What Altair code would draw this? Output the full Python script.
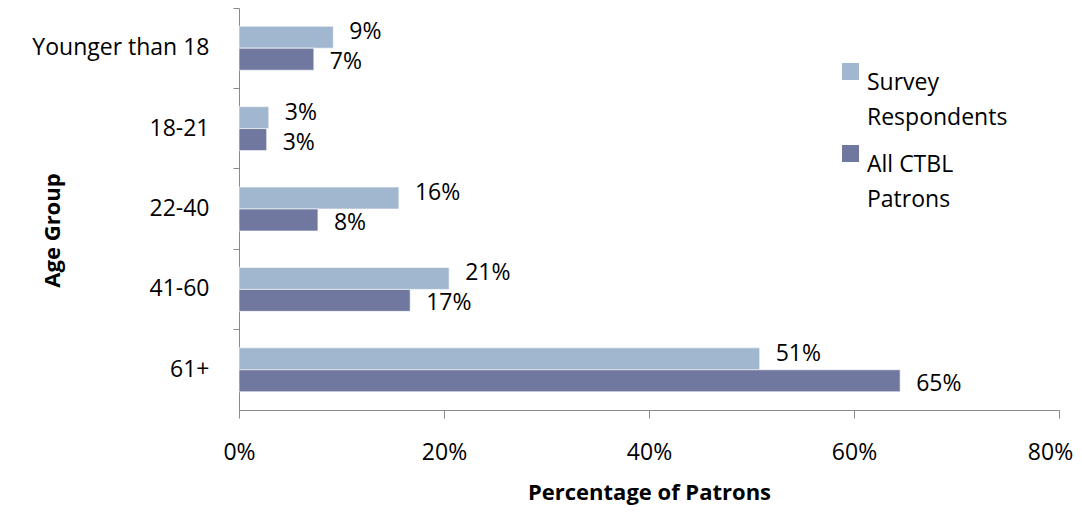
import altair as alt
import pandas as pd

age_groups = ["Younger than 18", "18-21", "22-40", "41-60", "61+"]
series_names = ["Survey|Respondents", "All CTBL|Patrons"]
survey_values = [0.092, 0.029, 0.156, 0.205, 0.508]
patron_values = [0.073, 0.027, 0.077, 0.167, 0.645]
colors = ["#a1b7cf", "#7178a0"]

rows = []
for g, s, p in zip(age_groups, survey_values, patron_values):
    rows.append({"age": g, "series": series_names[0], "value": s})
    rows.append({"age": g, "series": series_names[1], "value": p})
df = pd.DataFrame(rows)

FONT = "Comic Sans MS, Open Sans"

y_scale = alt.Scale(domain=age_groups, paddingInner=0, paddingOuter=0)
yoff_scale = alt.Scale(domain=series_names, paddingInner=0, paddingOuter=0.83)
x_scale = alt.Scale(domain=[0, 0.8])

base = alt.Chart(df)

bars = base.mark_bar(stroke="white", strokeWidth=0.6).encode(
    y=alt.Y("age:N", scale=y_scale, sort=age_groups,
            axis=alt.Axis(title="Age Group", ticks=False, labelPadding=30,
                          titleX=-187, titleY=222, titleAngle=-90,
                          titleAlign="center", titleBaseline="middle",
                          orient="left")),
    yOffset=alt.YOffset("series:N", scale=yoff_scale, sort=series_names),
    x=alt.X("value:Q", scale=x_scale,
            axis=alt.Axis(title="Percentage of Patrons", format=".0%",
                          values=[0, 0.2, 0.4, 0.6, 0.8], grid=False,
                          labelFlush=False,
                          labelOffset={"condition": {"test": "datum.value >= 0.8", "value": -9},
                                       "value": 0},
                          tickSize=8, labelPadding=23, titlePadding=18)),
    color=alt.Color("series:N", sort=series_names,
                    scale=alt.Scale(domain=series_names, range=colors),
                    legend=alt.Legend(title=None, orient="none", legendX=600, legendY=52,
                                      symbolType="square", symbolSize=289,
                                      symbolStrokeWidth=0,
                                      labelExpr="split(datum.label, '|')",
                                      labelFontSize=23, labelFont=FONT,
                                      labelBaseline="top", labelOffset=5,
                                      rowPadding=12, labelLimit=300)),
)

survey_labels = base.transform_filter(
    alt.datum.series == series_names[0]
).mark_text(align="left", baseline="middle", dx=16, dy=-5, fontSize=23,
            font=FONT, color="black").encode(
    y=alt.Y("age:N", scale=y_scale, sort=age_groups,
            axis=alt.Axis(title=None, labels=False, domain=False, ticks=True,
                          tickSize=6, bandPosition=0, orient="left")),
    yOffset=alt.YOffset("series:N", scale=yoff_scale, sort=series_names),
    x=alt.X("value:Q", scale=x_scale),
    text=alt.Text("value:Q", format=".0%"),
)

patron_labels = base.transform_filter(
    alt.datum.series == series_names[1]
).mark_text(align="left", baseline="middle", dx=16, dy=3, fontSize=23,
            font=FONT, color="black").encode(
    y=alt.Y("age:N", scale=y_scale, sort=age_groups, axis=None),
    yOffset=alt.YOffset("series:N", scale=yoff_scale, sort=series_names),
    x=alt.X("value:Q", scale=x_scale),
    text=alt.Text("value:Q", format=".0%"),
)

chart = alt.layer(bars, survey_labels, patron_labels).resolve_axis(y="independent").properties(
    width=820, height=402,
    autosize=alt.AutoSizeParams(type="none"),
    padding={"left": 231, "top": 0, "right": 15, "bottom": 97},
).configure(
    axis=alt.AxisConfig(
        domainColor="#8a8a8a", tickColor="#8a8a8a", labelFont=FONT, titleFont=FONT,
        labelFontSize=23, titleFontSize=22, labelColor="black", titleColor="black",
        labelFontWeight="normal", titleFontWeight="bold"),
    view=alt.ViewConfig(stroke=None),
    style={"guide-label": {"lineHeight": 35}},
)

chart.save("out.html", embed_options={"renderer": "svg", "actions": False})
